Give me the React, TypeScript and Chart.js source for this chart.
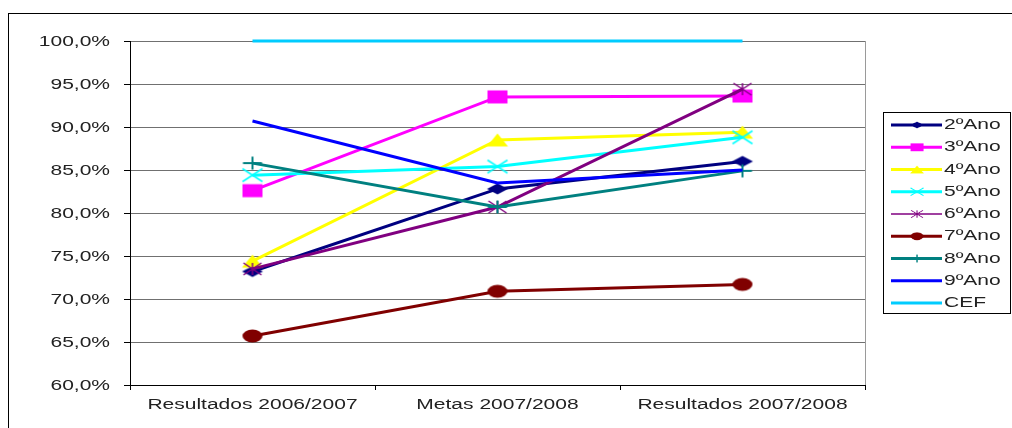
import React, { useEffect, useRef } from "react";
import { Chart, registerables } from "chart.js";

Chart.register(...registerables);

const categories = ["Resultados 2006/2007", "Metas 2007/2008", "Resultados 2007/2008"];
const seriesNames = ["2ºAno", "3ºAno", "4ºAno", "5ºAno", "6ºAno", "7ºAno", "8ºAno", "9ºAno", "CEF"];
const ano2 = [73.2, 82.8, 86.0];
const ano3 = [82.6, 93.5, 93.6];
const ano4 = [74.4, 88.5, 89.4];
const ano5 = [84.4, 85.4, 88.8];
const ano6 = [73.5, 80.7, 94.4];
const ano7 = [65.7, 70.9, 71.7];
const ano8 = [85.8, 80.7, 84.9];
const ano9 = [90.7, 83.5, 85.0];
const cef = [100, 100, 100];
const yTickValues = [60, 65, 70, 75, 80, 85, 90, 95, 100];

const seriesData = [ano2, ano3, ano4, ano5, ano6, ano7, ano8, ano9, cef];
const colors = ["#000080", "#FF00FF", "#FFFF00", "#00FFFF", "#800080", "#800000", "#008080", "#0000FF", "#00CCFF"];
const markers = ["diamond", "square", "triangle", "x", "star", "circle", "plus", "none", "none"];

const FONT = '14px "Liberation Sans", Arial, sans-serif';
const SX = 1.5;

function makeMarker(kind: string, color: string): HTMLCanvasElement | null {
  if (kind === "none") return null;
  const W = 24, H = 16;
  const c = document.createElement("canvas");
  c.width = W;
  c.height = H;
  const g = c.getContext("2d")!;
  const cx = W / 2, cy = H / 2;
  g.fillStyle = color;
  g.strokeStyle = color;
  let a = 10, b = 6.5;
  g.beginPath();
  if (kind === "diamond") {
    a = 10.5; b = 5.5;
    g.moveTo(cx, cy - b); g.lineTo(cx + a, cy); g.lineTo(cx, cy + b); g.lineTo(cx - a, cy); g.closePath(); g.fill();
  } else if (kind === "square") {
    g.fillRect(cx - a, cy - b, 2 * a, 2 * b);
  } else if (kind === "triangle") {
    a = 10.5;
    g.moveTo(cx, cy - b); g.lineTo(cx + a, cy + b); g.lineTo(cx - a, cy + b); g.closePath(); g.fill();
  } else if (kind === "x") {
    g.lineWidth = 1.5;
    g.moveTo(cx - a, cy - b); g.lineTo(cx + a, cy + b); g.moveTo(cx + a, cy - b); g.lineTo(cx - a, cy + b); g.stroke();
  } else if (kind === "star") {
    a = 9; b = 6;
    g.lineWidth = 1.5;
    g.moveTo(cx - a, cy - b); g.lineTo(cx + a, cy + b); g.moveTo(cx + a, cy - b); g.lineTo(cx - a, cy + b);
    g.moveTo(cx, cy - b); g.lineTo(cx, cy + b); g.stroke();
  } else if (kind === "circle") {
    g.ellipse(cx, cy, a, b, 0, 0, Math.PI * 2); g.fill();
  } else if (kind === "plus") {
    a = 9.5;
    g.lineWidth = 2;
    g.moveTo(cx - a, cy); g.lineTo(cx + a, cy); g.moveTo(cx, cy - b); g.lineTo(cx, cy + b); g.stroke();
  }
  return c;
}

function sText(ctx: CanvasRenderingContext2D, text: string, x: number, y: number, align: CanvasTextAlign) {
  ctx.save();
  ctx.translate(x, y);
  ctx.scale(SX, 1);
  ctx.textAlign = align;
  ctx.textBaseline = "alphabetic";
  ctx.fillText(text, 0, 0);
  ctx.restore();
}

export default function App() {
  const ref = useRef<HTMLCanvasElement | null>(null);

  useEffect(() => {
    if (!ref.current) return;
    const markerImgs = seriesNames.map((_, i) => makeMarker(markers[i], colors[i]));

    const datasets = seriesNames.map((name, i) => ({
      label: name,
      data: seriesData[i],
      borderColor: colors[i],
      backgroundColor: colors[i],
      borderWidth: 3,
      tension: 0,
      clip: false,
      order: seriesNames.length - 1 - i,
      pointStyle: (markerImgs[i] || "circle") as any,
      pointRadius: markerImgs[i] ? 8 : 0,
      pointHoverRadius: markerImgs[i] ? 8 : 0,
    }));

    const decor = {
      id: "decor",
      afterDraw(chart: any) {
        const ctx: CanvasRenderingContext2D = chart.ctx;
        const area = chart.chartArea;
        const ys = chart.scales.y;
        const xs = chart.scales.x;
        ctx.save();
        // outer border
        ctx.strokeStyle = "#000";
        ctx.lineWidth = 1;
        ctx.strokeRect(8.5, 13.5, 1200, 600);
        // plot area right border
        ctx.strokeStyle = "#9a9a9a";
        ctx.beginPath();
        ctx.moveTo(area.right + 0.5, area.top);
        ctx.lineTo(area.right + 0.5, area.bottom);
        ctx.stroke();
        // y labels
        ctx.fillStyle = "#222";
        ctx.font = FONT;
        yTickValues.forEach((v) => {
          const y = ys.getPixelForValue(v);
          sText(ctx, v.toFixed(1).replace(".", ",") + "%", 110, y + 5, "right");
        });
        // x labels
        categories.forEach((c, i) => {
          sText(ctx, c, xs.getPixelForValue(i), 409, "center");
        });
        // legend
        ctx.strokeStyle = "#000";
        ctx.lineWidth = 1;
        ctx.strokeRect(883.5, 112.5, 127, 201);
        seriesNames.forEach((name, i) => {
          const y = 125 + i * 22.25;
          ctx.strokeStyle = colors[i];
          ctx.lineWidth = i === 4 ? 1.5 : 3;
          ctx.beginPath();
          ctx.moveTo(891, y);
          ctx.lineTo(942, y);
          ctx.stroke();
          const m = markerImgs[i];
          if (m) {
            const w = m.width * 0.65, h = m.height * 0.6;
            ctx.drawImage(m, 917 - w / 2, y - h / 2, w, h);
          }
          ctx.fillStyle = "#222";
          sText(ctx, name, 944, y + 4, "left");
        });
        ctx.restore();
      },
    };

    const chart = new Chart(ref.current, {
      type: "line",
      data: { labels: categories, datasets: datasets as any },
      options: {
        animation: false,
        responsive: false,
        devicePixelRatio: 1,
        layout: { padding: { left: 0, top: 41, right: 147, bottom: 0 }, autoPadding: false } as any,
        plugins: { legend: { display: false }, tooltip: { enabled: false } },
        scales: {
          x: {
            type: "category",
            offset: true,
            grid: { offset: true, drawOnChartArea: false, drawTicks: true, tickLength: 5, color: "#000", tickColor: "#000" },
            border: { display: true, color: "#000", width: 1 },
            ticks: { display: false },
            afterFit: (s: any) => { s.height = 43; },
          },
          y: {
            min: 60,
            max: 100,
            ticks: { display: false, stepSize: 5 },
            grid: { color: "#707070", tickColor: "#000", tickLength: 6, drawTicks: true },
            border: { display: true, color: "#000", width: 1 },
            afterFit: (s: any) => { s.width = 130; },
          },
        },
      },
      plugins: [decor],
    });
    return () => chart.destroy();
  }, []);

  return (
    <div style={{ position: "absolute", left: 0, top: 0, width: 1012, height: 428, background: "#fff" }}>
      <canvas ref={ref} width={1012} height={428} style={{ display: "block" }} />
    </div>
  );
}
